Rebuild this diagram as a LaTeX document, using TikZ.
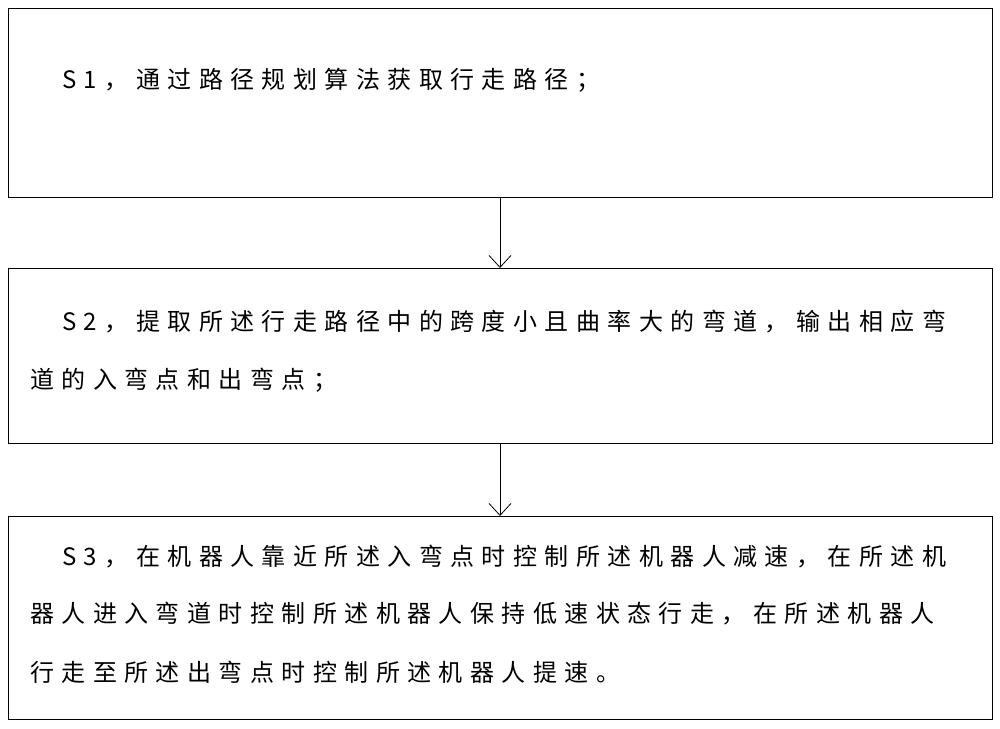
\documentclass[tikz,border=0pt]{standalone}
\usepackage{fontspec}
\usetikzlibrary{arrows.meta}
\newfontfamily\cjk[LetterSpace=31]{Noto Sans CJK SC}
\begin{document}
\begin{tikzpicture}[x=1pt,y=-1pt,
  boxst/.style={draw,line width=0.9pt},
  txt/.style={anchor=west,inner sep=0pt,font=\cjk\fontsize{24}{24}\selectfont},
  arr/.style={-{Straight Barb[length=12pt,width=22pt]},line width=0.8pt}]
\useasboundingbox (0,0) rectangle (1000,728);
\draw[boxst] (8,8) rectangle (992,197);
\coordinate (b1) at (500,197);
\coordinate (t2) at (500,268);
\draw[boxst] (8,268) rectangle (992,443);
\coordinate (b2) at (500,443);
\coordinate (t3) at (500,516);
\draw[boxst] (8,516) rectangle (992,719);
\draw[arr] (b1) -- (t2);
\draw[arr] (b2) -- (t3);
\node[txt] (l1) at (62,80) {S1，通过路径规划算法获取行走路径；};
\node[txt] (l2) at (62,322) {S2，提取所述行走路径中的跨度小且曲率大的弯道，输出相应弯};
\node[txt] (l3) at (30,380) {道的入弯点和出弯点；};
\node[txt] (l4) at (62,557) {S3，在机器人靠近所述入弯点时控制所述机器人减速，在所述机};
\node[txt] (l5) at (30,614) {器人进入弯道时控制所述机器人保持低速状态行走，在所述机器人};
\node[txt] (l6) at (30,672) {行走至所述出弯点时控制所述机器人提速。};
\end{tikzpicture}
\end{document}
